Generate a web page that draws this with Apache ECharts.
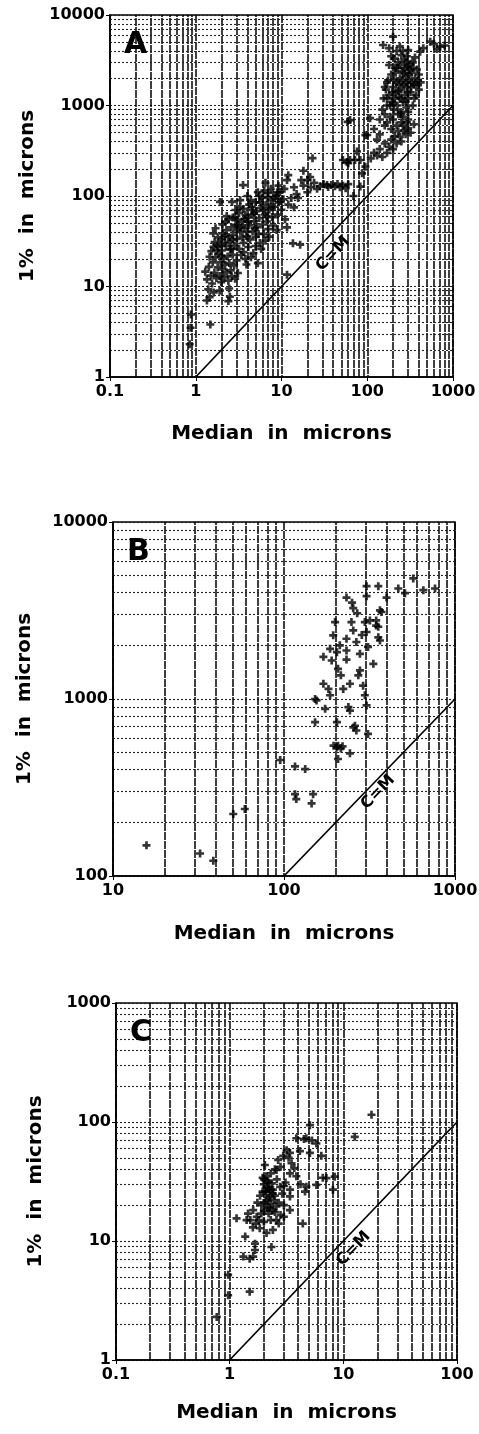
<!DOCTYPE html>
<html>
<head>
<meta charset="utf-8">
<title>1% vs median</title>
<style>
    html, body { margin: 0; padding: 0; background: #fff; }
    #main { width: 479px; height: 1434px; }
</style>
</head>
<body>
<div id="main"></div>
<script src="https://cdn.jsdelivr.net/npm/echarts@6/dist/echarts.min.js"></script>
<script>
// panel A : [median, 1%] in microns
var aPoints = [
    [0.85,2.3],[0.87,3.5],[0.88,4.9],[1.48,3.8],[1.35,7.0],[1.45,7.6],[1.4,9.3],[1.62,8.6],[2.4,6.9],[2.5,7.7],[2.45,9.5],[1.9,9.0],
    [1.29,14.6],[1.35,12.0],[1.42,16.5],[1.5,13.2],[1.55,10.8],[1.58,18.5],[1.65,14.2],[1.7,21],[1.74,12.4],[1.8,16.3],[1.84,23],[1.9,13.1],
    [1.95,18.6],[1.98,11.2],[2.02,25],[2.05,15.4],[2.1,20.3],[2.15,12.6],[2.2,17.4],[2.24,28],[2.3,14.3],[2.35,21.5],[2.4,11.6],[2.46,18.2],
    [2.52,25.5],[2.56,15.1],[2.62,13.0],[2.7,22.4],[2.8,17.1],[2.88,12.2],[3.0,19.4],[3.1,14.1],[1.45,21.3],[1.52,24.6],[1.61,27.5],[1.66,31],
    [1.75,25.4],[1.81,35],[1.9,29.3],[2.0,33.4],[2.08,38.6],[2.18,30.2],[2.28,42],[2.4,35.3],[2.5,31.1],[2.6,45],[2.72,37.2],[2.82,28.4],
    [2.92,48],[3.02,33.5],[3.2,26.1],[3.3,40.2],[3.4,22.3],[1.6,38.7],[1.7,44],[2.05,48.5],[2.22,52],[2.42,55],[2.7,58],[1.92,86],[2.65,86],
    [3.3,90],[3.56,132],
    [3.5,52],[3.6,30.4],[3.7,44.5],[3.8,20.2],[3.9,36.1],[4.0,58],[4.1,27.3],[4.2,47.4],[4.3,33.2],[4.5,62],[4.6,40.5],[4.7,23.4],[4.8,52.6],
    [5.0,35.2],[5.1,68],[5.2,45.3],[5.3,18.1],[5.5,57],[5.6,30.2],[5.8,74],[6.0,48.4],[6.2,38.3],[6.4,62.5],[6.6,80],[6.8,52.3],[7.0,43.1],
    [7.2,70.4],[7.5,90],[7.8,58.5],[8.0,47.2],[8.3,76.1],[8.6,100],[9.0,62.3],[9.3,85.2],[9.6,110],[10,70.5],[10.5,92],[11,55.2],[11.6,45],
    [12,80.3],[3.6,72],[4.2,80.4],[4.0,100],[4.5,75.6],[5.0,85.1],[5.5,100],[6.0,95.3],[3.2,65],[2.85,58.4],[3.9,17.5],[4.4,21],[5.8,26],
    [6.5,32],[7.2,35.5],[8.8,42],[3.4,45],[3.1,55],[4.8,64],[6.1,70],[7.0,108],[7.5,120],[8.9,110],[9.2,130],[6.5,140],
    [2.3,60],[2.9,70],[3.3,75],[3.8,62],[4.4,90],[5.3,110],[6.3,115],[5.0,28],[4.0,40],[3.5,35],[3.0,42],[2.6,26],[2.2,36],[1.8,28],
    [2.0,22],[3.6,24],[4.1,52],[4.9,44],[5.4,38],[6.7,60],[7.6,75],[8.4,95],[9.8,88],[10.8,120],[2.7,33],[3.1,48],[3.7,56],[4.6,70],
    [5.7,85],[6.9,98],
    [11.6,13.5],[13.6,30],[16.5,29],[13,95],[14,75],[15,105],[15.6,95],[17,150],[18,130],[20,110],[21.6,162],[22,125],[23,262],[11.6,150],
    [12,170],[14,125],[18,190],[24,140],[26,120],[20,150],
    [28,128],[31,135],[35,126],[38,132],[42,128],[45,136],[48,125],[52,130],[56,122],[60,135],[58,238],[60,230],[63,250],[72,250],[83,250],
    [87,178],[95,211],[69,100],[83,127],[52,250],[76,310],[59,660],[95,470],[108,725],[100,472],[63,690],[34,132],
    [110,260],[120,300],[130,280],[140,330],[150,270],[160,380],[170,300],[180,350],[190,420],[200,330],[210,460],[220,380],[230,520],
    [240,450],[250,400],[260,600],[270,530],[280,480],[290,650],[300,560],[320,500],[350,620],
    [140,700],[150,900],[155,1200],[160,800],[165,1500],[170,1000],[175,1900],[180,1300],[185,750],[190,2200],[195,1100],[200,1600],
    [205,900],[210,2600],[215,1400],[220,1800],[225,1000],[230,3000],[235,1250],[240,2000],[245,850],[250,1500],[255,2400],[260,1100],
    [265,1700],[270,3200],[275,1300],[280,2100],[285,950],[290,1600],[295,2700],[300,1200],[310,1900],[320,1400],[330,2300],[340,1000],
    [350,1700],[360,2000],[370,1300],[380,2500],[200,700],[230,800],[260,750],[300,850],[170,1800],[180,2800],[190,3500],[210,1200],
    [240,2800],[250,3600],[280,3000],[320,2900],[220,4000],[300,4100],[200,5760],[153,4660],[414,3930],[542,5070],[708,4460],[450,4300],
    [600,4800],[650,4200],[800,4600],[180,4300],[240,4500],[360,3400],[330,1800],[280,1100],[250,650],[220,600],[190,550],[160,600],
    [140,480],[130,420],[120,550],[400,1500],[400,2200],[420,1800],
    [170,650],[185,1000],[195,1400],[205,1900],[215,2300],[225,2600],[235,1700],[245,1200],[255,1900],[265,2300],[275,2600],[285,1800],
    [295,1400],[305,2200],[315,2500],[325,1600],[345,2600],[355,1200],[375,1700],[390,1900],[210,3300],[260,4000],[290,3500],[340,3000],
    [230,1450],[200,1050],[250,800],[300,700],[170,1200],[160,1600]
];
// panel B
var bPoints = [
    [570,4800],[466,4210],[510,3960],[653,4120],[764,4210],[304,4340],[356,4340],[304,3810],[398,3740],[232,3740],[254,3260],[268,3050],
    [364,3170],[372,3100],[199,2720],[248,2720],[297,2720],[346,2780],[318,2780],[346,2600],[254,2440],[304,2390],[356,2560],[194,2290],
    [265,2100],[364,2140],[356,2230],[310,1970],[186,1920],[204,1840],[232,1880],[170,1730],[190,1650],[232,1670],[278,1800],[333,1580],
    [207,1480],[215,1360],[278,1450],[272,1360],[170,1220],[243,1220],[290,1190],[182,1140],[222,1140],[152,1000],[155,982],[186,1050],
    [297,1050],[304,920],[174,880],[238,900],[243,860],[152,740],[204,740],[260,706],[265,664],[310,635],[255,690],[195,545],[207,545],
    [220,540],[204,533],[215,525],[207,458],[243,493],[212,2010],[232,2190],[250,3500],[285,2300],
    [95,452],[116,416],[133,402],[116,290],[118,272],[148,290],[145,257],[50.5,224],[59,239],[32.3,134],[38.6,122],[15.7,149]
];
// panel C
var cPoints = [
    [17.7,115],[12.6,75],[5.08,94],[4.73,73],[5.8,66],[3.86,73],[4.5,72],[5.3,70],[3.17,58],[3.39,55],[4.15,57],[5.08,55],[6.4,52],
    [2.04,43.5],[2.67,48],[2.96,52],[2.58,39.5],[3.39,37],[3.86,35],[4.73,28.6],[5.8,29.6],[7.1,33.8],[8.4,34.7],[8.1,27],[6.6,34],
    [1.95,34],[2.0,30],[2.05,26],[2.1,22],[2.15,32],[2.2,28],[2.25,24],[2.3,20.5],[2.35,30.5],[2.4,27],[2.11,28.5],[2.4,25],[2.78,28.5],
    [3.39,23.7],[2.58,19.5],[3.39,18.2],[1.61,18.2],[1.73,16],[1.41,15],[1.52,15],[1.8,15],[2.3,15],[2.58,15],[1.15,15.5],[1.84,12.8],
    [2.11,11.7],[2.4,12.4],[4.4,14],[1.37,10.9],[1.67,9.5],[1.67,8.4],[2.33,8.9],[1.32,7.4],[1.61,7.4],[1.5,7.1],[0.97,5.2],[0.97,3.5],
    [1.5,3.75],[0.77,2.3],
    [1.9,20],[2.0,18],[2.2,17],[2.5,17.5],[2.7,21],[2.9,25],[3.1,31],[3.0,20],[2.6,33],[2.3,37],[2.8,42],[3.5,45],[3.3,50],[3.7,41],
    [4.2,30],[2.45,22],[1.75,21],[1.85,24],[2.1,35],[1.6,13],[2.0,14.5],[2.7,14],[3.0,16],[1.45,17],[2.2,23],[2.5,40],[3.0,29],[2.15,19],
    [1.95,26],[4.6,26],[2.8,16.5],[3.4,27],
    [2.0,33],[2.1,26],[2.2,31],[2.3,27],[1.9,17],[2.05,21],[2.25,19],[2.5,24],[1.7,14],[2.4,18]
];
// axis ranges: [xmin, xmax, ymin, ymax]
var aRange = [0.1, 1000, 1, 10000];
var bRange = [10, 1000, 100, 10000];
var cRange = [0.1, 100, 1, 1000];

var FONT = 'DejaVu Sans';
var plus = 'path://M3,0H6V3H9V6H6V9H3V6H0V3H3Z';

var panels = [
    {pts: aPoints, range: aRange, letter: 'A', grid: {left: 110, top: 15, width: 343, height: 362}, yGap: 72, xGap: 47, cm: [40, 23]},
    {pts: bPoints, range: bRange, letter: 'B', grid: {left: 113, top: 522, width: 342, height: 354}, yGap: 78, xGap: 48, cm: [355, 298]},
    {pts: cPoints, range: cRange, letter: 'C', grid: {left: 116, top: 1003, width: 341, height: 357}, yGap: 70, xGap: 43, cm: [12.3, 8.6]}
];

// 2..9 of every decade, for the minor grid
function minorValues(min, max) {
    var out = [];
    for (var d = min; d < max * 0.999; d *= 10) {
        for (var k = 2; k <= 9; k++) out.push(Number((d * k).toPrecision(6)));
    }
    return out;
}
function fmt(v) { return String(Number(v.toPrecision(6))); }

var vStyle = {color: '#000', type: [8, 1], width: 1.5};
var hStyle = {color: '#222', type: [2, 2], width: 1.1};

var grids = [], xAxes = [], yAxes = [], series = [], titles = [];
panels.forEach(function (p, i) {
    var r = p.range;
    grids.push({left: p.grid.left, top: p.grid.top, width: p.grid.width, height: p.grid.height,
        show: true, borderColor: '#000', borderWidth: 1.5, outerBoundsMode: 'none'});
    xAxes.push({
        type: 'log', gridIndex: i, min: r[0], max: r[1], logBase: 10,
        name: 'Median  in  microns', nameLocation: 'middle', nameGap: p.xGap,
        nameTextStyle: {fontFamily: FONT, fontSize: 20, fontWeight: 'bold', color: '#000'},
        axisLine: {show: true, lineStyle: {color: '#000', width: 1.5}},
        axisTick: {show: true, length: 4, lineStyle: {color: '#000'}},
        axisLabel: {formatter: fmt, fontFamily: FONT, fontSize: 16, fontWeight: 'bold', color: '#000', margin: 7,
            showMinLabel: true, showMaxLabel: true},
        splitLine: {show: true, lineStyle: vStyle}
    });
    yAxes.push({
        type: 'log', gridIndex: i, min: r[2], max: r[3], logBase: 10,
        name: '1%  in  microns', nameLocation: 'middle', nameGap: p.yGap,
        nameTextStyle: {fontFamily: FONT, fontSize: 20, fontWeight: 'bold', color: '#000'},
        axisLine: {show: true, lineStyle: {color: '#000', width: 1.5}},
        axisTick: {show: true, length: 4, lineStyle: {color: '#000'}},
        axisLabel: {formatter: fmt, fontFamily: FONT, fontSize: 16, fontWeight: 'bold', color: '#000', margin: 5,
            showMinLabel: true, showMaxLabel: true},
        splitLine: {show: true, lineStyle: hStyle}
    });

    var lines = [];
    minorValues(r[0], r[1]).forEach(function (v) { lines.push({xAxis: v, lineStyle: vStyle}); });
    minorValues(r[2], r[3]).forEach(function (v) { lines.push({yAxis: v, lineStyle: hStyle}); });

    var lo = Math.max(r[0], r[2]), hi = Math.min(r[1], r[3]);
    // C=M line, carries the minor grid and its own label
    series.push({
        type: 'line', xAxisIndex: i, yAxisIndex: i, z: 1,
        data: [[lo, lo], [hi, hi]],
        symbol: 'none', silent: true,
        lineStyle: {color: '#000', width: 1.7},
        markLine: {silent: true, symbol: ['none', 'none'], label: {show: false}, animation: false, data: lines},
        markPoint: {
            silent: true, symbol: 'circle', symbolSize: 0, animation: false,
            data: [{coord: p.cm}],
            label: {show: true, position: 'inside', formatter: 'C=M', rotate: 46,
                fontFamily: FONT, fontSize: 16, fontWeight: 'bold', color: '#000'}
        }
    });
    series.push({
        type: 'scatter', xAxisIndex: i, yAxisIndex: i, z: 3,
        data: p.pts, symbol: plus, symbolSize: [8, 8],
        itemStyle: {color: '#000'}
    });
    titles.push({text: p.letter, left: p.grid.left + 14, top: p.grid.top + 15, padding: 0,
        textStyle: {fontFamily: FONT, fontSize: 30, fontWeight: 'bold', color: '#000'}});
});

var chart = echarts.init(document.getElementById('main'));
chart.setOption({
    animation: false,
    backgroundColor: '#fff',
    title: titles,
    grid: grids,
    xAxis: xAxes,
    yAxis: yAxes,
    series: series
});
</script>
</body>
</html>
